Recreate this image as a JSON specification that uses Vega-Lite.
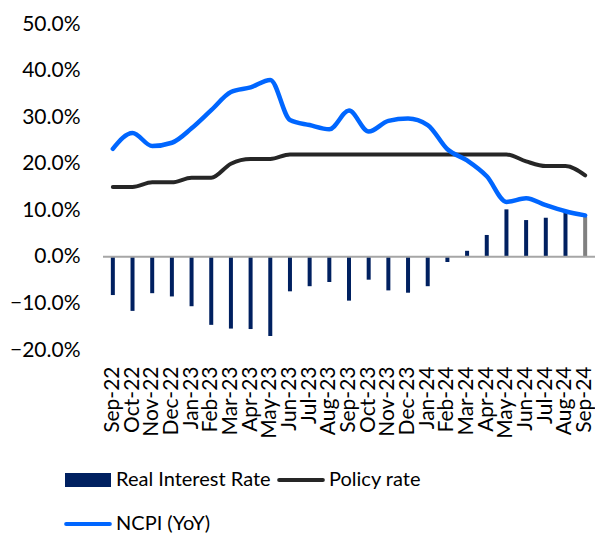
{
  "$schema": "https://vega.github.io/schema/vega-lite/v6.json",
  "width": 492,
  "height": 326,
  "autosize": "none",
  "padding": {"left": 103, "top": 24, "right": 0, "bottom": 185},
  "background": "white",
  "config": {
    "view": {"stroke": null},
    "font": "Lato",
    "axis": {"labelFont": "Lato", "labelColor": "#000000", "labelFontSize": 21}
  },
  "datasets": {
    "bars": [
      {"month": "Sep-22", "series": "Real Interest Rate", "value": -8.2},
      {"month": "Oct-22", "series": "Real Interest Rate", "value": -11.6},
      {"month": "Nov-22", "series": "Real Interest Rate", "value": -7.8},
      {"month": "Dec-22", "series": "Real Interest Rate", "value": -8.5},
      {"month": "Jan-23", "series": "Real Interest Rate", "value": -10.6},
      {"month": "Feb-23", "series": "Real Interest Rate", "value": -14.6},
      {"month": "Mar-23", "series": "Real Interest Rate", "value": -15.4},
      {"month": "Apr-23", "series": "Real Interest Rate", "value": -15.5},
      {"month": "May-23", "series": "Real Interest Rate", "value": -17.0},
      {"month": "Jun-23", "series": "Real Interest Rate", "value": -7.4},
      {"month": "Jul-23", "series": "Real Interest Rate", "value": -6.3},
      {"month": "Aug-23", "series": "Real Interest Rate", "value": -5.4},
      {"month": "Sep-23", "series": "Real Interest Rate", "value": -9.4},
      {"month": "Oct-23", "series": "Real Interest Rate", "value": -4.9},
      {"month": "Nov-23", "series": "Real Interest Rate", "value": -7.2},
      {"month": "Dec-23", "series": "Real Interest Rate", "value": -7.7},
      {"month": "Jan-24", "series": "Real Interest Rate", "value": -6.3},
      {"month": "Feb-24", "series": "Real Interest Rate", "value": -1.1},
      {"month": "Mar-24", "series": "Real Interest Rate", "value": 1.3},
      {"month": "Apr-24", "series": "Real Interest Rate", "value": 4.7},
      {"month": "May-24", "series": "Real Interest Rate", "value": 10.2},
      {"month": "Jun-24", "series": "Real Interest Rate", "value": 7.9},
      {"month": "Jul-24", "series": "Real Interest Rate", "value": 8.4},
      {"month": "Aug-24", "series": "Real Interest Rate", "value": 9.6},
      {"month": "Sep-24", "series": "Real Interest Rate", "value": 8.6}
    ],
    "lines": [
      {"month": "Sep-22", "series": "Policy rate", "value": 15.0},
      {"month": "Oct-22", "series": "Policy rate", "value": 15.0},
      {"month": "Nov-22", "series": "Policy rate", "value": 16.0},
      {"month": "Dec-22", "series": "Policy rate", "value": 16.0},
      {"month": "Jan-23", "series": "Policy rate", "value": 17.0},
      {"month": "Feb-23", "series": "Policy rate", "value": 17.0},
      {"month": "Mar-23", "series": "Policy rate", "value": 20.0},
      {"month": "Apr-23", "series": "Policy rate", "value": 21.0},
      {"month": "May-23", "series": "Policy rate", "value": 21.0},
      {"month": "Jun-23", "series": "Policy rate", "value": 22.0},
      {"month": "Jul-23", "series": "Policy rate", "value": 22.0},
      {"month": "Aug-23", "series": "Policy rate", "value": 22.0},
      {"month": "Sep-23", "series": "Policy rate", "value": 22.0},
      {"month": "Oct-23", "series": "Policy rate", "value": 22.0},
      {"month": "Nov-23", "series": "Policy rate", "value": 22.0},
      {"month": "Dec-23", "series": "Policy rate", "value": 22.0},
      {"month": "Jan-24", "series": "Policy rate", "value": 22.0},
      {"month": "Feb-24", "series": "Policy rate", "value": 22.0},
      {"month": "Mar-24", "series": "Policy rate", "value": 22.0},
      {"month": "Apr-24", "series": "Policy rate", "value": 22.0},
      {"month": "May-24", "series": "Policy rate", "value": 22.0},
      {"month": "Jun-24", "series": "Policy rate", "value": 20.5},
      {"month": "Jul-24", "series": "Policy rate", "value": 19.5},
      {"month": "Aug-24", "series": "Policy rate", "value": 19.5},
      {"month": "Sep-24", "series": "Policy rate", "value": 17.5},
      {"month": "Sep-22", "series": "NCPI (YoY)", "value": 23.2},
      {"month": "Oct-22", "series": "NCPI (YoY)", "value": 26.6},
      {"month": "Nov-22", "series": "NCPI (YoY)", "value": 23.8},
      {"month": "Dec-22", "series": "NCPI (YoY)", "value": 24.5},
      {"month": "Jan-23", "series": "NCPI (YoY)", "value": 27.6},
      {"month": "Feb-23", "series": "NCPI (YoY)", "value": 31.5},
      {"month": "Mar-23", "series": "NCPI (YoY)", "value": 35.4},
      {"month": "Apr-23", "series": "NCPI (YoY)", "value": 36.4},
      {"month": "May-23", "series": "NCPI (YoY)", "value": 38.0},
      {"month": "Jun-23", "series": "NCPI (YoY)", "value": 29.4},
      {"month": "Jul-23", "series": "NCPI (YoY)", "value": 28.3},
      {"month": "Aug-23", "series": "NCPI (YoY)", "value": 27.4},
      {"month": "Sep-23", "series": "NCPI (YoY)", "value": 31.4},
      {"month": "Oct-23", "series": "NCPI (YoY)", "value": 26.9},
      {"month": "Nov-23", "series": "NCPI (YoY)", "value": 29.2},
      {"month": "Dec-23", "series": "NCPI (YoY)", "value": 29.7},
      {"month": "Jan-24", "series": "NCPI (YoY)", "value": 28.3},
      {"month": "Feb-24", "series": "NCPI (YoY)", "value": 23.1},
      {"month": "Mar-24", "series": "NCPI (YoY)", "value": 20.7},
      {"month": "Apr-24", "series": "NCPI (YoY)", "value": 17.3},
      {"month": "May-24", "series": "NCPI (YoY)", "value": 11.8},
      {"month": "Jun-24", "series": "NCPI (YoY)", "value": 12.6},
      {"month": "Jul-24", "series": "NCPI (YoY)", "value": 11.1},
      {"month": "Aug-24", "series": "NCPI (YoY)", "value": 9.8},
      {"month": "Sep-24", "series": "NCPI (YoY)", "value": 8.9}
    ]
  },
  "layer": [
    {
      "data": {"name": "bars"},
      "mark": {"type": "bar", "width": 4},
      "encoding": {
        "x": {
          "field": "month",
          "type": "nominal",
          "scale": {
            "domain": ["Sep-22","Oct-22","Nov-22","Dec-22","Jan-23","Feb-23","Mar-23","Apr-23","May-23","Jun-23","Jul-23","Aug-23","Sep-23","Oct-23","Nov-23","Dec-23","Jan-24","Feb-24","Mar-24","Apr-24","May-24","Jun-24","Jul-24","Aug-24","Sep-24"],
            "paddingInner": 0,
            "paddingOuter": 0
          },
          "axis": {"title": null, "labelAngle": -90, "domain": false, "ticks": false, "labelPadding": 16}
        },
        "y": {
          "field": "value",
          "type": "quantitative",
          "scale": {"domain": [-20, 50], "nice": false, "zero": false},
          "axis": {
            "title": null,
            "values": [-20, -10, 0, 10, 20, 30, 40, 50],
            "labelExpr": "format(datum.value, '.1f') + '%'",
            "domain": false,
            "ticks": false,
            "grid": false,
            "labelPadding": 23
          }
        },
        "color": {
          "condition": {"test": "datum.month === 'Sep-24'", "value": "#808080"},
          "field": "series",
          "type": "nominal",
          "scale": {
            "domain": ["Real Interest Rate", "Policy rate", "NCPI (YoY)"],
            "range": ["#002060", "#262626", "#0066FF"]
          },
          "legend": {
            "title": null,
            "orient": "none",
            "legendX": -38,
            "legendY": 446,
            "direction": "horizontal",
            "columns": 2,
            "columnPadding": 0,
            "rowPadding": 24,
            "labelLimit": 400,
            "labelFontSize": 20,
            "labelFont": "Lato",
            "labelColor": "#000000",
            "encode": {
              "symbols": {
                "update": {
                  "x": {"value": 23},
                  "size": {"value": 2116},
                  "shape": {"signal": "datum.value === 'Real Interest Rate' ? 'M-1,-0.3H1V0.3H-1Z' : 'M-0.95,0H0.95'"},
                  "fill": {"signal": "datum.value === 'Real Interest Rate' ? '#002060' : 'transparent'"},
                  "stroke": {"signal": "datum.value === 'Real Interest Rate' ? '#002060' : (datum.value === 'Policy rate' ? '#262626' : '#0066FF')"},
                  "strokeWidth": {"signal": "datum.value === 'Real Interest Rate' ? 0 : 4"},
                  "strokeCap": {"value": "round"},
                  "opacity": {"value": 1}
                }
              },
              "labels": {
                "update": {
                  "x": {"value": 51}
                }
              }
            }
          }
        }
      }
    },
    {
      "data": {"values": [{}]},
      "mark": {"type": "rule", "color": "#A6A6A6", "strokeWidth": 2},
      "encoding": {"y": {"datum": 0}}
    },
    {
      "data": {"name": "lines"},
      "mark": {"type": "line", "interpolate": "monotone", "strokeCap": "round"},
      "encoding": {
        "x": {"field": "month", "type": "nominal"},
        "y": {"field": "value", "type": "quantitative"},
        "color": {"field": "series", "type": "nominal"},
        "strokeWidth": {"condition": {"test": "datum.series === 'NCPI (YoY)'", "value": 4.5}, "value": 4}
      }
    }
  ]
}
